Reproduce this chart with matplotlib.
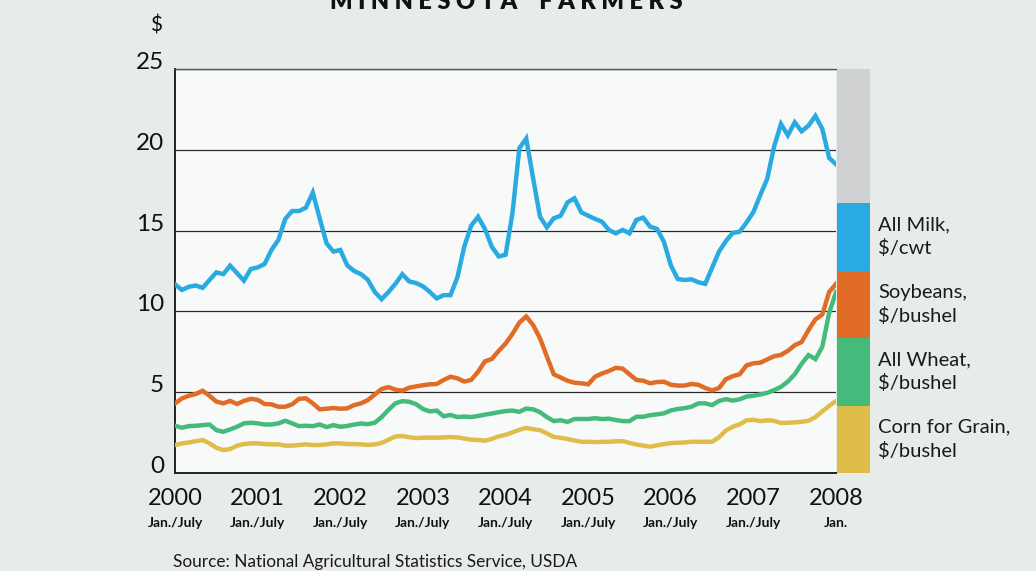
import matplotlib
matplotlib.use("Agg")
import matplotlib.pyplot as plt
import matplotlib.transforms as mtransforms
from matplotlib.patches import Rectangle
import numpy as np

# monthly prices, Jan 2000 .. Jan 2008
milk = [11.67, 11.32, 11.52, 11.6, 11.45, 11.94, 12.41, 12.3, 12.83, 12.36, 11.9, 12.62,
        12.72, 12.93, 13.8, 14.42, 15.72, 16.21, 16.21, 16.42, 17.35, 15.76, 14.21, 13.7,
        13.8, 12.85, 12.5, 12.3, 11.95, 11.2, 10.75, 11.2, 11.7, 12.3, 11.85, 11.75,
        11.55, 11.2, 10.8, 11.0, 11.0, 12.1, 14.0, 15.3, 15.85, 15.1, 14.0, 13.4,
        13.5, 16.07, 20.1, 20.7, 18.24, 15.86, 15.2, 15.76, 15.92, 16.75, 17.0, 16.13,
        15.92, 15.72, 15.55, 15.04, 14.83, 15.04, 14.83, 15.66, 15.8, 15.24, 15.1, 14.3,
        12.85, 12.0, 11.94, 11.98, 11.8, 11.7, 12.7, 13.7, 14.35, 14.85, 14.93, 15.5,
        16.15, 17.2, 18.2, 20.2, 21.6, 20.9, 21.7, 21.15, 21.5, 22.1, 21.3, 19.5,
        19.1]
soybeans = [4.30, 4.61, 4.77, 4.88, 5.08, 4.77, 4.41, 4.30, 4.45, 4.26, 4.45, 4.58,
            4.52, 4.26, 4.24, 4.09, 4.09, 4.24, 4.58, 4.61, 4.30, 3.93, 3.97, 4.01,
            3.97, 3.99, 4.19, 4.30, 4.50, 4.85, 5.19, 5.3, 5.15, 5.08, 5.27, 5.35,
            5.42, 5.48, 5.5, 5.75, 5.95, 5.85, 5.65, 5.75, 6.25, 6.9, 7.05, 7.55,
            8.0, 8.6, 9.3, 9.68, 9.15, 8.33, 7.2, 6.1, 5.9, 5.7, 5.58, 5.54,
            5.48, 5.95, 6.15, 6.3, 6.5, 6.45, 6.1, 5.75, 5.7, 5.54, 5.62, 5.64,
            5.45, 5.4, 5.4, 5.5, 5.45, 5.25, 5.1, 5.25, 5.8, 5.98, 6.1, 6.65,
            6.78, 6.82, 7.02, 7.22, 7.3, 7.55, 7.9, 8.1, 8.84, 9.5, 9.8, 11.2,
            11.7]
wheat = [2.91, 2.79, 2.89, 2.91, 2.95, 2.99, 2.64, 2.54, 2.69, 2.85, 3.06, 3.10,
         3.06, 2.99, 2.99, 3.06, 3.22, 3.06, 2.89, 2.91, 2.89, 2.99, 2.83, 2.95,
         2.85, 2.9, 2.99, 3.05, 3.01, 3.1, 3.45, 3.9, 4.3, 4.44, 4.4, 4.25,
         3.95, 3.8, 3.85, 3.5, 3.58, 3.45, 3.48, 3.45, 3.52, 3.6, 3.67, 3.75,
         3.82, 3.85, 3.78, 3.98, 3.93, 3.75, 3.45, 3.2, 3.25, 3.15, 3.33, 3.33,
         3.33, 3.38, 3.33, 3.35, 3.27, 3.2, 3.2, 3.47, 3.47, 3.57, 3.62, 3.68,
         3.86, 3.95, 4.0, 4.09, 4.3, 4.3, 4.19, 4.45, 4.56, 4.47, 4.55, 4.72,
         4.77, 4.85, 4.95, 5.12, 5.32, 5.65, 6.1, 6.75, 7.29, 7.04, 7.8, 9.9,
         11.2]
corn = [1.72, 1.82, 1.88, 1.96, 2.03, 1.82, 1.55, 1.41, 1.47, 1.68, 1.78, 1.82,
        1.82, 1.78, 1.76, 1.76, 1.68, 1.68, 1.72, 1.76, 1.72, 1.72, 1.76, 1.82,
        1.82, 1.78, 1.78, 1.76, 1.73, 1.76, 1.85, 2.05, 2.25, 2.28, 2.2, 2.15,
        2.17, 2.18, 2.17, 2.19, 2.21, 2.19, 2.12, 2.05, 2.03, 1.99, 2.1, 2.25,
        2.35, 2.5, 2.66, 2.78, 2.7, 2.64, 2.44, 2.22, 2.17, 2.09, 2.0, 1.92,
        1.92, 1.9, 1.92, 1.92, 1.95, 1.96, 1.85, 1.75, 1.68, 1.62, 1.7, 1.78,
        1.84, 1.86, 1.88, 1.92, 1.92, 1.92, 1.92, 2.2, 2.62, 2.85, 3.0, 3.25,
        3.28, 3.2, 3.25, 3.22, 3.08, 3.1, 3.12, 3.16, 3.22, 3.45, 3.8, 4.15,
        4.44]

years = ["2000", "2001", "2002", "2003", "2004", "2005", "2006", "2007", "2008"]
sublabels = ["Jan./July"] * 8 + ["Jan."]
yticks = [0, 5, 10, 15, 20, 25]

series_names = ["All Milk,\n$/cwt", "Soybeans,\n$/bushel", "All Wheat,\n$/bushel",
                "Corn for Grain,\n$/bushel"]
series_colors = ["#29abe2", "#e06c26", "#45bb7b", "#e0bd4a"]

plt.rcParams['font.family'] = ['Lato', 'DejaVu Sans']

bg = "#e8ece9"
fig = plt.figure(figsize=(10.36, 5.71), dpi=100, facecolor=bg)
ax = fig.add_axes([0.169, 0.172, 0.638, 0.707])
ax.set_facecolor("#f8fafa")

months = np.arange(len(milk))
for vals, col in zip([milk, soybeans, wheat, corn], series_colors):
    ax.plot(months, vals, color=col, lw=3.2, solid_joinstyle='miter', zorder=3)

ax.set_xlim(0, 96)
ax.set_ylim(0, 25)
ax.set_yticks(yticks)
ax.set_yticklabels([str(t) for t in yticks], fontsize=17.5, va='baseline')
ax.yaxis.grid(True, color="#2a2a2a", lw=0.9)
ax.set_axisbelow(True)

ax.set_xticks(np.arange(0, 97, 12))
ax.set_xticklabels(years, fontsize=17)
ax.tick_params(axis='both', length=0, colors="#111111")
ax.tick_params(axis='x', pad=11)
ax.tick_params(axis='y', pad=8)

trans = mtransforms.blended_transform_factory(ax.transData, ax.transAxes)
for i, lab in enumerate(sublabels):
    ax.text(i * 12, -0.11, lab, transform=trans, ha='center', va='top',
            fontsize=10, fontweight='bold', color="#111111")

ax.spines['right'].set_visible(False)
ax.spines['top'].set_color("#555555")
ax.spines['top'].set_linewidth(1.0)
ax.spines['left'].set_color("#222222")
ax.spines['left'].set_linewidth(1.4)
ax.spines['bottom'].set_color("#222222")
ax.spines['bottom'].set_linewidth(1.4)

# color key to the right of the plot
W, H = 1036.0, 571.0
blocks = [(69, 203, "#cfd1d3", None)] + [
    (203 + k * 67.5, 203 + (k + 1) * 67.5, series_colors[k], series_names[k]) for k in range(4)]
for top, bot, col, name in blocks:
    fig.add_artist(Rectangle((837 / W, 1 - bot / H), 33 / W, (bot - top) / H,
                             transform=fig.transFigure, facecolor=col, edgecolor='none'))
    if name:
        fig.text(878 / W, 1 - (top + bot) / 2 / H, name, fontsize=14.5, va='center',
                 ha='left', color="#1a1a1a", linespacing=1.4)

fig.text(156 / W, 1 - 26 / H, "$", fontsize=15, ha='center', va='center', color="#111111")
fig.text(506 / W, 1 - 9 / H, "M I N N E S O T A    F A R M E R S", fontsize=17,
         fontweight='heavy', ha='center', va='baseline', color="#111111")
fig.text(173 / W, 1 - 567 / H, "Source: National Agricultural Statistics Service, USDA",
         fontsize=12.4, ha='left', va='baseline', color="#1a1a1a")

fig.savefig("out.png", dpi=100, facecolor=bg)
